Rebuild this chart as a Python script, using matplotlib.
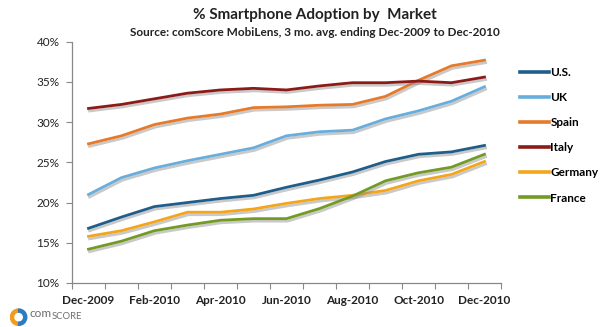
import numpy as np
import matplotlib
matplotlib.use("Agg")
import matplotlib.pyplot as plt
import matplotlib.patheffects as pe
from matplotlib.patches import Wedge

plt.rcParams['font.family'] = ['Lato', 'DejaVu Sans']

months = ['Dec-2009', 'Jan-2010', 'Feb-2010', 'Mar-2010', 'Apr-2010', 'May-2010',
          'Jun-2010', 'Jul-2010', 'Aug-2010', 'Sep-2010', 'Oct-2010', 'Nov-2010', 'Dec-2010']

us      = [16.8, 18.2, 19.5, 20.0, 20.5, 20.9, 21.9, 22.8, 23.8, 25.1, 26.0, 26.3, 27.1]
uk      = [21.0, 23.1, 24.3, 25.2, 26.0, 26.8, 28.3, 28.8, 29.0, 30.4, 31.4, 32.6, 34.4]
spain   = [27.3, 28.3, 29.7, 30.5, 31.0, 31.8, 31.9, 32.1, 32.2, 33.2, 35.2, 37.0, 37.7]
italy   = [31.7, 32.2, 32.9, 33.6, 34.0, 34.2, 34.0, 34.5, 34.9, 34.9, 35.1, 34.9, 35.6]
germany = [15.8, 16.5, 17.6, 18.8, 18.8, 19.2, 19.9, 20.5, 20.9, 21.5, 22.7, 23.5, 25.1]
france  = [14.2, 15.2, 16.5, 17.2, 17.8, 18.0, 18.0, 19.25, 20.8, 22.7, 23.7, 24.4, 26.0]

series = [('U.S.', us, '#1F5E8B'),
          ('UK', uk, '#68AEDC'),
          ('Spain', spain, '#E67A2A'),
          ('Italy', italy, '#8C1B17'),
          ('Germany', germany, '#F3A61B'),
          ('France', france, '#729A25')]

fig = plt.figure(figsize=(6, 3.27), dpi=100)
ax = fig.add_axes([0.12, 0.1346, 0.715, 0.7379])

x = np.arange(len(months))
shadow = [pe.SimpleLineShadow(offset=(0.8, -1.8), shadow_color='#888888', alpha=0.45),
          pe.Normal()]
for name, vals, col in series:
    ax.plot(x, vals, color=col, lw=2.0, label=name, path_effects=shadow,
            solid_joinstyle='round')

ax.set_xlim(-0.5, len(months) - 0.5)
ax.set_ylim(10, 40)
ax.set_yticks(np.arange(10, 41, 5))
ax.set_yticklabels([f'{v}%' for v in range(10, 41, 5)], fontsize=8.5, color='#222222')

# category boundaries carry the tick marks, labels sit every other month
ax.set_xticks(np.arange(-0.5, len(months), 1.0))
ax.set_xticklabels([])
ax.set_xticks(x[::2], minor=True)
ax.set_xticklabels(months[::2], minor=True, fontsize=8.5, fontweight='bold', color='#222222')
ax.tick_params(axis='x', which='major', length=4, color='#888888', direction='out')
ax.tick_params(axis='x', which='minor', length=0, pad=9)
ax.tick_params(axis='y', length=4, color='#888888', pad=5)

for s in ['top', 'right']:
    ax.spines[s].set_visible(False)
for s in ['left', 'bottom']:
    ax.spines[s].set_color('#888888')
    ax.spines[s].set_linewidth(0.9)

leg = ax.legend(loc='upper left', bbox_to_anchor=(1.02, 0.94), frameon=False,
                handlelength=2.4, handletextpad=0.15, labelspacing=1.2,
                prop={'weight': 'bold', 'size': 8.5})
for line in leg.get_lines():
    line.set_linewidth(2.6)
    line.set_path_effects([])

fig.text(0.525, 0.955, '% Smartphone Adoption by  Market', ha='center', va='center',
         fontsize=11, fontweight='bold', color='#222222')
fig.text(0.525, 0.9, 'Source: comScore MobiLens, 3 mo. avg. ending Dec-2009 to Dec-2010',
         ha='center', va='center', fontsize=8.5, fontweight='bold', color='#222222')

# comScore mark in the bottom left corner
lax = fig.add_axes([0.016, 0.0, 0.03, 0.06])
lax.set_aspect('equal')
lax.add_patch(Wedge((0, 0), 1, 90, 270, width=0.38, color='#F29B1D'))
lax.add_patch(Wedge((0, 0), 1, -90, 90, width=0.38, color='#2A7DC0'))
lax.set_xlim(-1.1, 1.1)
lax.set_ylim(-1.1, 1.1)
lax.axis('off')
t1 = fig.text(0.05, 0.03, 'com', ha='left', va='baseline', fontsize=8.5, color='#6d6d6d')
lax.annotate('SCORE', xy=(1.0, 0.0), xycoords=t1, ha='left', va='baseline',
             fontsize=6.8, color='#6d6d6d', annotation_clip=False)

fig.savefig('out.png', dpi=100)
